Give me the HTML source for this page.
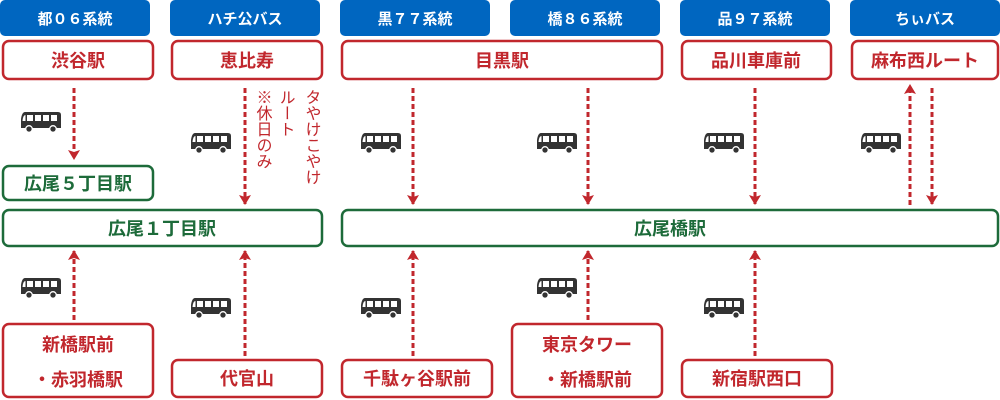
<!DOCTYPE html>
<html><head><meta charset="utf-8"><style>
html,body{margin:0;padding:0;background:#fff;width:1000px;height:400px;overflow:hidden}
svg{display:block}
text{font-family:"Liberation Sans","Noto Sans CJK JP",sans-serif}
.h{fill:#fff;font-size:15px;text-anchor:middle;font-weight:bold}
.r{fill:#c1272d;font-size:18px;text-anchor:middle;font-weight:bold}
.g{fill:#1d6b3a;font-size:18px;text-anchor:middle;font-weight:bold}
.rb{fill:#fff;stroke:#c1272d;stroke-width:2.5}
.gb{fill:#fff;stroke:#1d6b3a;stroke-width:2.5}
.d{stroke:#c1272d;stroke-width:3;stroke-dasharray:5 3;fill:none}
.v{fill:#c1272d;font-size:16px;writing-mode:vertical-rl}
</style></head><body>
<svg width="1000" height="400" viewBox="0 0 1000 400">
<defs>
<symbol id="bus" viewBox="0 0 40 22">
<path d="M4 1 H37 Q40 1 40 4 V17 H0 V8 Q1 1 4 1Z" fill="#333"/>
<rect x="6" y="4" width="6" height="6" fill="#fff"/>
<rect x="14" y="4" width="6" height="6" fill="#fff"/>
<rect x="22" y="4" width="6" height="6" fill="#fff"/>
<rect x="30" y="4" width="6" height="6" fill="#fff"/>
<path d="M1.5 10 Q2 4 4.5 4 V10Z" fill="#fff"/>
<circle cx="8" cy="18" r="3.3" fill="#333" stroke="#fff" stroke-width="1.3"/>
<circle cx="32" cy="18" r="3.3" fill="#333" stroke="#fff" stroke-width="1.3"/>
</symbol>
<marker id="a" viewBox="0 0 10 12" refX="9" refY="6" markerWidth="10" markerHeight="12" markerUnits="userSpaceOnUse" orient="auto"><path d="M0 0 L10 6 L0 12 L2 6Z" fill="#c1272d"/></marker>
</defs>
<g fill="#0066c0">
<rect x="0" y="0" width="150" height="36" rx="5"/>
<rect x="170" y="0" width="150" height="36" rx="5"/>
<rect x="340" y="0" width="150" height="36" rx="5"/>
<rect x="510" y="0" width="150" height="36" rx="5"/>
<rect x="680" y="0" width="150" height="36" rx="5"/>
<rect x="850" y="0" width="150" height="36" rx="5"/>
</g>
<text class="h" x="75" y="24">都０６系統</text>
<text class="h" x="245" y="24">ハチ公バス</text>
<text class="h" x="415" y="24">黒７７系統</text>
<text class="h" x="585" y="24">橋８６系統</text>
<text class="h" x="755" y="24">品９７系統</text>
<text class="h" x="925" y="24">ちぃバス</text>
<rect class="rb" x="3" y="41" width="150" height="38" rx="6"/>
<rect class="rb" x="172" y="41" width="150" height="38" rx="6"/>
<rect class="rb" x="342" y="41" width="320" height="38" rx="6"/>
<rect class="rb" x="682" y="41" width="149" height="38" rx="6"/>
<rect class="rb" x="852" y="41" width="146" height="38" rx="6"/>
<text class="r" x="78" y="67">渋谷駅</text>
<text class="r" x="247" y="67">恵比寿</text>
<text class="r" x="502" y="67">目黒駅</text>
<text class="r" x="756" y="67">品川車庫前</text>
<text class="r" x="925" y="67">麻布西ルート</text>
<rect class="gb" x="3" y="166" width="150" height="34" rx="6"/>
<rect class="gb" x="3" y="210" width="319" height="36" rx="6"/>
<rect class="gb" x="342" y="210" width="656" height="36" rx="6"/>
<text class="g" x="78" y="190">広尾５丁目駅</text>
<text class="g" x="162" y="235">広尾１丁目駅</text>
<text class="g" x="670" y="235">広尾橋駅</text>
<rect class="rb" x="3" y="324" width="150" height="73" rx="6"/>
<rect class="rb" x="172" y="360" width="150" height="37" rx="6"/>
<rect class="rb" x="342" y="360" width="150" height="37" rx="6"/>
<rect class="rb" x="512" y="324" width="150" height="73" rx="6"/>
<rect class="rb" x="682" y="360" width="150" height="37" rx="6"/>
<text class="r" x="78" y="351">新橋駅前</text>
<text class="r" x="78" y="386">・赤羽橋駅</text>
<text class="r" x="247" y="385">代官山</text>
<text class="r" x="417" y="385">千駄ヶ谷駅前</text>
<text class="r" x="587" y="351">東京タワー</text>
<text class="r" x="587" y="386">・新橋駅前</text>
<text class="r" x="757" y="385">新宿駅西口</text>
<line class="d" x1="74" y1="88" x2="74" y2="159" marker-end="url(#a)"/>
<line class="d" x1="245" y1="88" x2="245" y2="204" marker-end="url(#a)"/>
<line class="d" x1="413" y1="88" x2="413" y2="204" marker-end="url(#a)"/>
<line class="d" x1="588" y1="88" x2="588" y2="204" marker-end="url(#a)"/>
<line class="d" x1="755" y1="88" x2="755" y2="204" marker-end="url(#a)"/>
<line class="d" x1="932" y1="88" x2="932" y2="204" marker-end="url(#a)"/>
<line class="d" x1="910" y1="205" x2="910" y2="85" marker-end="url(#a)"/>
<line class="d" x1="74" y1="320" x2="74" y2="251" marker-end="url(#a)"/>
<line class="d" x1="245" y1="356" x2="245" y2="251" marker-end="url(#a)"/>
<line class="d" x1="413" y1="356" x2="413" y2="251" marker-end="url(#a)"/>
<line class="d" x1="588" y1="320" x2="588" y2="251" marker-end="url(#a)"/>
<line class="d" x1="755" y1="356" x2="755" y2="251" marker-end="url(#a)"/>
<use href="#bus" x="21" y="111" width="40" height="22"/>
<use href="#bus" x="191" y="132" width="40" height="22"/>
<use href="#bus" x="361" y="132" width="40" height="22"/>
<use href="#bus" x="537" y="132" width="40" height="22"/>
<use href="#bus" x="704" y="132" width="40" height="22"/>
<use href="#bus" x="861" y="132" width="40" height="22"/>
<use href="#bus" x="21" y="277" width="40" height="22"/>
<use href="#bus" x="191" y="297" width="40" height="22"/>
<use href="#bus" x="361" y="297" width="40" height="22"/>
<use href="#bus" x="537" y="277" width="40" height="22"/>
<use href="#bus" x="704" y="297" width="40" height="22"/>
<text class="v" x="262" y="89">※休日のみ</text>
<text class="v" x="285" y="89">ルート</text>
<text class="v" x="311" y="89">タやけこやけ</text>
</svg>
</body></html>
